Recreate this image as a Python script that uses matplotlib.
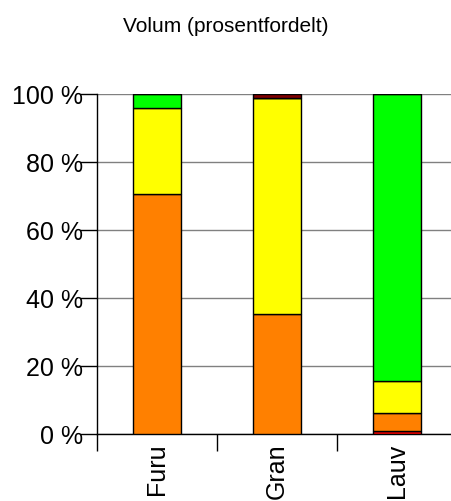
import matplotlib
matplotlib.use("Agg")
import matplotlib.pyplot as plt
import numpy as np

plt.rcParams['font.family'] = ['Liberation Sans', 'DejaVu Sans']

categories = ["Furu", "Gran", "Lauv"]
series_names = ["red", "orange", "yellow", "green", "darkred"]
red = [0.0, 0.0, 0.8]
orange = [70.6, 35.3, 5.4]
yellow = [25.4, 63.6, 9.3]
green = [4.0, 0.0, 84.5]
darkred = [0.0, 1.1, 0.0]
yticks = [0, 20, 40, 60, 80, 100]
ytick_labels = ["0 %", "20 %", "40 %", "60 %", "80 %", "100 %"]
title = "Volum (prosentfordelt)"

colors = ["#FF0000", "#FF8000", "#FFFF00", "#00FF00", "#800000"]
data = [red, orange, yellow, green, darkred]

fig = plt.figure(figsize=(4.51, 5.02), dpi=100)
W, H = 451, 502
ax = fig.add_axes([97 / W, (H - 435) / H, 360 / W, 340 / H])

x = np.arange(len(categories)) + 0.5
bottom = np.zeros(len(categories))
for vals, c in zip(data, colors):
    v = np.array(vals)
    ax.bar(x, v, width=0.4, bottom=bottom, color=c, edgecolor="black",
           linewidth=1.0, zorder=3)
    bottom += v

ax.set_xlim(0, 3)
ax.set_ylim(0, 100)
ax.set_yticks(yticks)
ax.set_yticklabels(ytick_labels, fontsize=18)
ax.yaxis.grid(True, color="#808080", linewidth=1.0, zorder=0)
ax.set_axisbelow(True)

ax.set_xticks([0, 1, 2, 3])
ax.set_xticklabels([])
ax.set_xticks(x, minor=True)
ax.set_xticklabels(categories, minor=True, rotation=90, fontsize=18)
ax.tick_params(axis="x", which="minor", length=0, pad=6)
ax.tick_params(axis="x", which="major", length=12, width=1, direction="out")
ax.tick_params(axis="y", length=12, width=1, direction="out", pad=-2)

for s in ["top", "right"]:
    ax.spines[s].set_visible(False)
for s in ["left", "bottom"]:
    ax.spines[s].set_linewidth(1.0)
    ax.spines[s].set_color("black")

fig.text(226 / W, 1 - 26 / H, title, ha="center", va="center", fontsize=15)

fig.savefig("out.png", dpi=100)
